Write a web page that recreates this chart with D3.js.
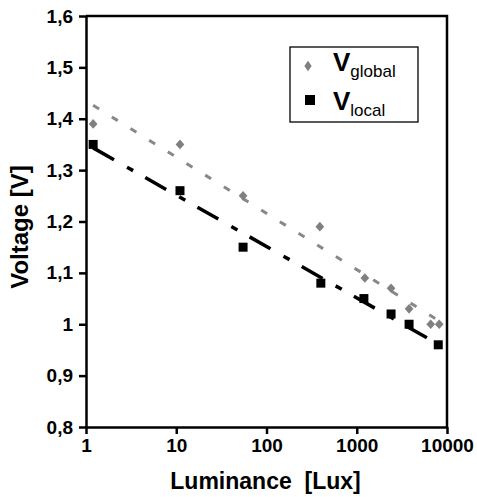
<!DOCTYPE html>
<html>
<head>
<meta charset="utf-8">
<script src="https://d3js.org/d3.v7.min.js"></script>
<style>
  body { margin: 0; background: #fff; }
  text { font-family: "Liberation Sans", Arial, sans-serif; }
</style>
</head>
<body>
<div id="chart"></div>
<script>
// luminance [Lux] and voltage [V]
const luxGlobal = [1.2, 11, 55, 390, 1230, 2400, 3800, 6600, 8200];
const vGlobal   = [1.39, 1.35, 1.25, 1.19, 1.09, 1.07, 1.03, 1.00, 1.00];
const luxLocal  = [1.2, 11, 55, 400, 1200, 2400, 3800, 8000];
const vLocal    = [1.35, 1.26, 1.15, 1.08, 1.05, 1.02, 1.00, 0.96];

const xTicks = [1, 10, 100, 1000, 10000];
const yTicks = [0.8, 0.9, 1.0, 1.1, 1.2, 1.3, 1.4, 1.5, 1.6];
const yLabel = v => v === 1 ? "1" : d3.format(".1f")(v).replace(".", ",");

const W = 477, H = 497;
const margin = { top: 16, right: 30, bottom: 70, left: 86 };

const svg = d3.select("#chart").append("svg")
  .attr("width", W).attr("height", H);

const x = d3.scaleLog().domain([1, 10000]).range([margin.left, W - margin.right]);
const y = d3.scaleLinear().domain([0.8, 1.6]).range([H - margin.bottom, margin.top]);

// least squares fit of V against log10(lux)
function fit(xs, ys) {
  const lx = xs.map(Math.log10);
  const mx = d3.mean(lx), my = d3.mean(ys);
  const b = d3.sum(lx, (v, i) => (v - mx) * (ys[i] - my)) / d3.sum(lx, v => (v - mx) ** 2);
  const a = my - b * mx;
  const x0 = d3.min(xs), x1 = d3.max(xs);
  return [[x0, a + b * Math.log10(x0)], [x1, a + b * Math.log10(x1)]];
}

const line = d3.line().x(d => x(d[0])).y(d => y(d[1]));

// trend lines
svg.append("path")
  .attr("d", line(fit(luxGlobal, vGlobal)))
  .attr("fill", "none").attr("stroke", "#888").attr("stroke-width", 3)
  .attr("stroke-dasharray", "7,15");

svg.append("path")
  .attr("d", line(fit(luxLocal, vLocal)))
  .attr("fill", "none").attr("stroke", "#000").attr("stroke-width", 3.5)
  .attr("stroke-dasharray", "24,15,7,14");

// markers
const diamond = d3.symbol().type(d3.symbolDiamond).size(42);
svg.selectAll(".g").data(luxGlobal).enter().append("path")
  .attr("d", diamond)
  .attr("transform", (d, i) => `translate(${x(d)},${y(vGlobal[i])}) scale(1.25,0.8)`)
  .attr("fill", "#808080");

svg.selectAll(".l").data(luxLocal).enter().append("rect")
  .attr("x", d => x(d) - 4.5)
  .attr("y", (d, i) => y(vLocal[i]) - 4.5)
  .attr("width", 9).attr("height", 9)
  .attr("fill", "#000");

// axes
const xAxis = svg.append("g")
  .attr("transform", `translate(0,${H - margin.bottom})`)
  .call(d3.axisBottom(x).tickValues(xTicks).tickFormat(d3.format("d")).tickSize(7).tickSizeOuter(0));
const yAxis = svg.append("g")
  .attr("transform", `translate(${margin.left},0)`)
  .call(d3.axisLeft(y).tickValues(yTicks).tickFormat(yLabel).tickSize(7).tickSizeOuter(0));

[xAxis, yAxis].forEach(a => {
  a.select(".domain").attr("stroke", "#000").attr("stroke-width", 2.5);
  a.selectAll(".tick line").attr("stroke", "#000").attr("stroke-width", 2.5);
  a.selectAll(".tick text")
    .attr("fill", "#000")
    .style("font-size", "19px").style("font-weight", "bold")
    .style("font-family", "'Liberation Sans', Arial, sans-serif");
});
xAxis.selectAll(".tick text").attr("y", 12);
yAxis.selectAll(".tick text").attr("x", -13);

// top and right frame
svg.append("path")
  .attr("d", `M${margin.left},${margin.top}H${W - margin.right}V${H - margin.bottom}`)
  .attr("fill", "none").attr("stroke", "#000").attr("stroke-width", 2.5);

// axis titles
svg.append("text")
  .attr("x", (margin.left + W - margin.right) / 2 - 1)
  .attr("y", 489)
  .attr("text-anchor", "middle")
  .style("font-size", "23px").style("font-weight", "bold")
  .attr("xml:space", "preserve")
  .text("Luminance  [Lux]");

svg.append("text")
  .attr("transform", "translate(28,227) rotate(-90)")
  .attr("text-anchor", "middle")
  .style("font-size", "24px").style("font-weight", "bold")
  .text("Voltage [V]");

// legend
const lg = svg.append("g");
lg.append("rect")
  .attr("x", 290).attr("y", 47).attr("width", 128).attr("height", 75)
  .attr("fill", "#fff").attr("stroke", "#000").attr("stroke-width", 1.3);
lg.append("path")
  .attr("d", diamond)
  .attr("transform", "translate(308,66) scale(1.05,0.85)")
  .attr("fill", "#808080");
lg.append("rect")
  .attr("x", 305).attr("y", 95).attr("width", 10).attr("height", 10)
  .attr("fill", "#000");

const legendItems = [["global", 71], ["local", 110]];
legendItems.forEach(([sub, base]) => {
  const t = lg.append("text").attr("x", 333).attr("y", base);
  t.append("tspan").style("font-size", "26px").style("font-weight", "bold").text("V");
  t.append("tspan").attr("dy", 6).style("font-size", "17px").text(sub);
});
</script>
</body>
</html>
